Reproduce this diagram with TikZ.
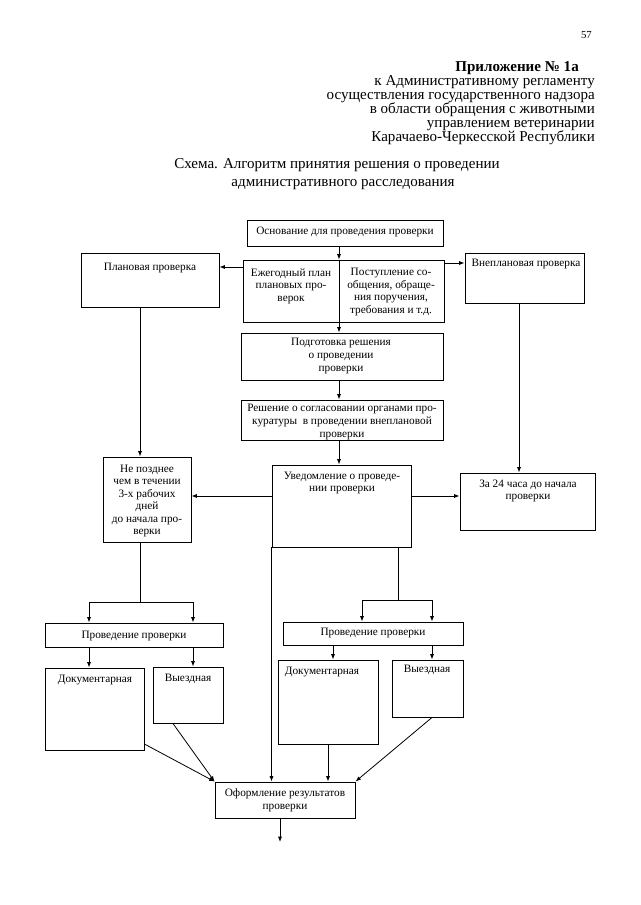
\documentclass[tikz,border=0pt]{standalone}
\usepackage{fontspec}
\setmainfont{Liberation Serif}
\usetikzlibrary{arrows.meta,fit}
\begin{document}
\begin{tikzpicture}[x=0.9302pt,y=-0.9302pt,
 box/.style={draw,line width=0.9pt,inner sep=0pt,fit={#1}},
 arr/.style={line width=0.75pt,-{Latex[length=5pt,width=3.8pt]}},
 ln/.style={line width=0.75pt},
 txt/.style={font=\fontsize{10.5}{11.7}\selectfont,align=center,inner sep=0pt},
 hdr/.style={font=\fontsize{14}{14}\selectfont,inner sep=0pt,anchor=base east,text height=9pt,text depth=2pt},
 ttl/.style={font=\fontsize{14}{14}\selectfont,inner sep=0pt,anchor=base},
]
\useasboundingbox[fill=white] (0,0) rectangle (640,905);

% header
\node[hdr,font=\fontsize{10}{10}\selectfont] (pg) at (592,39) {57};
\node[hdr,font=\fontsize{14}{14}\selectfont\bfseries] (h0) at (579,72) {Приложение № 1а};
\node[hdr] (h1) at (595,86) {к Административному регламенту};
\node[hdr] (h2) at (595,100) {осуществления государственного надзора};
\node[hdr] (h3) at (595,114) {в области обращения с животными};
\node[hdr] (h4) at (595,128) {управлением ветеринарии};
\node[hdr] (h5) at (595,142) {Карачаево-Черкесской Республики};
\node[ttl] (t1) at (337,168) {Схема. Алгоритм принятия решения о проведении};
\node[ttl] (t2) at (343,186) {административного расследования};

% boxes
\node[box={(247,220) (443,246)}] (osn) {};
\node[box={(243,260) (444,322)}] (split) {};
\node[box={(81,253) (219,307)}] (plan) {};
\node[box={(465,253) (584,303)}] (vneplan) {};
\node[box={(241,333) (443,380)}] (podg) {};
\node[box={(241,400) (443,440)}] (resh) {};
\node[box={(103,457) (191,542)}] (nepozd) {};
\node[box={(272,465) (411,547)}] (uved) {};
\node[box={(460,473) (595,530)}] (za24) {};
\node[box={(45,623) (223,647)}] (prov1) {};
\node[box={(45,668) (144,750)}] (dok1) {};
\node[box={(153,667) (223,723)}] (vyezd1) {};
\node[box={(283,622) (463,645)}] (prov2) {};
\node[box={(278,660) (378,744)}] (dok2) {};
\node[box={(392,660) (463,717)}] (vyezd2) {};
\node[box={(215,782) (355,818)}] (oform) {};

% texts
\node[txt] (tosn) at (345,232) {Основание для проведения проверки};
\node[txt] (tsl) at (291,286) {Ежегодный план\\плановых про-\\верок};
\node[txt] (tsr) at (391,292) {Поступление со-\\общения, обраще-\\ния поручения,\\требования и т.д.};
\node[txt] (tplan) at (150,268) {Плановая проверка};
\node[txt] (tvne) at (526,264) {Внеплановая проверка};
\node[txt] (tpodg) at (341,356) {Подготовка решения\\о проведении\\проверки};
\node[txt] (tresh) at (342,422) {Решение о согласовании органами про-\\куратуры\ \ в проведении внеплановой\\проверки};
\node[txt] (tnep) at (147,501) {Не позднее\\чем в течении\\3-х рабочих\\дней\\до начала про-\\верки};
\node[txt] (tuved) at (342,483) {Уведомление о проведе-\\нии проверки};
\node[txt] (tza) at (528,491) {За 24 часа до начала\\проверки};
\node[txt] (tprov1) at (134,636) {Проведение проверки};
\node[txt] (tdok1) at (95,680) {Документарная};
\node[txt] (tvy1) at (188,679) {Выездная};
\node[txt] (tprov2) at (373,633) {Проведение проверки};
\node[txt] (tdok2) at (322,672) {Документарная};
\node[txt] (tvy2) at (427,670) {Выездная};
\node[txt] (tof) at (285,800) {Оформление результатов\\проверки};

% helper coordinates
\coordinate (xM) at (339,0);
\coordinate (xL) at (140,0);
\coordinate (xR) at (519,0);
\coordinate (xLa) at (89,0);
\coordinate (xLb) at (193,0);
\coordinate (xRa) at (362,0);
\coordinate (xRb) at (432,0);
\coordinate (xRs) at (398,0);
\coordinate (xRd) at (333,0);
\coordinate (yP) at (0,267);
\coordinate (yV) at (0,263);
\coordinate (yU) at (0,496);
\coordinate (yFL) at (0,602);
\coordinate (yFR) at (0,600);
\coordinate (fin) at (280,842);

% connectors
\draw[arr] (xM |- osn.south) -- (xM |- split.north);
\draw[ln] (xM |- split.north) -- (xM |- split.south);
\draw[arr] (xM |- split.south) -- (xM |- podg.north);
\draw[arr] (xM |- podg.south) -- (xM |- resh.north);
\draw[arr] (xM |- resh.south) -- (xM |- uved.north);
\draw[arr] (split.west |- yP) -- (plan.east |- yP);
\draw[arr] (split.east |- yV) -- (vneplan.west |- yV);
\draw[arr] (xL |- plan.south) -- (xL |- nepozd.north);
\draw[arr] (xR |- vneplan.south) -- (xR |- za24.north);
\draw[arr] (uved.west |- yU) -- (nepozd.east |- yU);
\draw[arr] (uved.east |- yU) -- (za24.west |- yU);

\draw[ln] (xL |- nepozd.south) -- (xL |- yFL);
\draw[ln] (xLa |- yFL) -- (xLb |- yFL);
\draw[arr] (xLa |- yFL) -- (xLa |- prov1.north);
\draw[arr] (xLb |- yFL) -- (xLb |- prov1.north);
\draw[arr] (xLa |- prov1.south) -- (xLa |- dok1.north);
\draw[arr] (xLb |- prov1.south) -- (xLb |- vyezd1.north);

\draw[ln] (xRs |- uved.south) -- (xRs |- yFR);
\draw[ln] (xRa |- yFR) -- (xRb |- yFR);
\draw[arr] (xRa |- yFR) -- (xRa |- prov2.north);
\draw[arr] (xRb |- yFR) -- (xRb |- prov2.north);
\draw[arr] (xRd |- prov2.south) -- (xRd |- dok2.north);
\draw[arr] (xRb |- prov2.south) -- (xRb |- vyezd2.north);

\draw[arr] (uved.south west) -- (uved.south west |- oform.north);
\draw[arr] (dok2.south) -- (dok2.south |- oform.north);
\draw[arr] (xRb |- vyezd2.south) -- (oform.north east);
\draw[arr] ([yshift=6pt]dok1.south east) -- (oform.north west);
\draw[arr] ([xshift=-14pt]vyezd1.south) -- (oform.north west);
\draw[arr] (fin |- oform.south) -- (fin);
\end{tikzpicture}
\end{document}
